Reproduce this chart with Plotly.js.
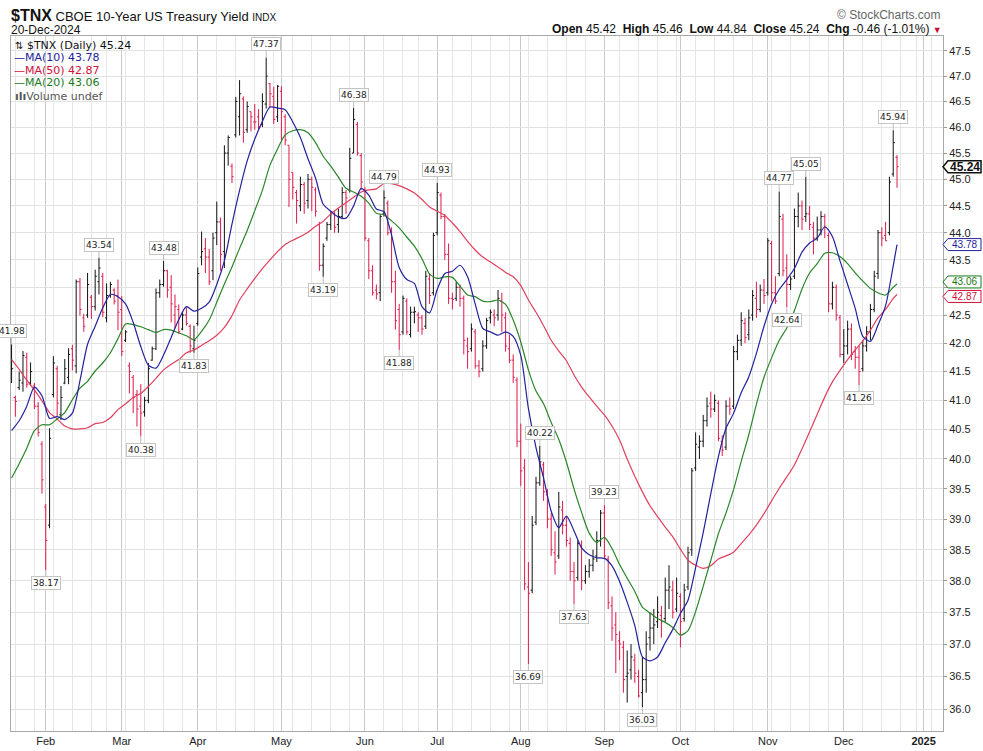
<!DOCTYPE html>
<html><head><meta charset="utf-8">
<script src="https://cdn.plot.ly/plotly-3.0.1.min.js"></script>
<style>html,body{margin:0;padding:0;background:#fff}#chart{width:983px;height:751px}</style>
</head><body><div id="chart"></div>
<script>
// ---- data (yield x10, $TNX, daily bars Jan 19 - Dec 20, 2024; x = trading-day position) ----
const openP = [41.45,41.05,41.22,41.30,41.75,41.30,41.25,40.90,40.25,39.20,
 38.90,41.10,41.55,40.75,41.30,41.40,41.90,41.60,43.10,42.45,
 42.50,42.82,42.65,43.10,43.20,42.45,42.85,42.95,42.85,42.60,
 42.05,41.60,41.40,41.10,40.90,40.80,41.00,41.70,41.90,42.90,
 43.05,43.30,43.00,42.50,42.60,42.25,42.50,42.30,41.90,42.35,
 43.55,43.70,43.55,43.30,44.00,44.20,43.65,45.50,45.25,45.85,
 46.20,46.55,45.95,46.30,46.10,46.20,46.05,46.45,46.85,46.60,
 46.20,46.70,46.20,45.65,45.13,44.75,44.50,44.90,44.60,45.00,
 44.80,44.15,43.40,43.90,44.15,44.35,44.15,44.30,44.75,44.80,
 45.50,46.05,45.45,44.80,43.85,43.30,42.95,42.90,44.35,44.55,
 44.05,43.10,42.60,42.20,42.75,42.15,42.55,42.50,42.45,42.30,
 43.15,42.90,44.00,44.70,44.30,43.60,42.80,42.80,43.00,42.80,
 41.95,41.90,42.20,41.60,41.55,41.95,42.45,42.50,42.50,42.75,
 42.45,41.90,41.70,41.35,40.30,39.85,37.90,37.85,38.95,39.60,
 39.90,39.40,39.00,38.45,38.40,39.15,38.90,38.60,38.15,38.05,
 38.55,38.00,38.15,38.25,38.40,38.65,39.10,38.35,37.60,37.30,
 37.05,36.95,36.50,36.60,36.75,36.50,36.25,36.45,37.10,37.25,
 37.35,37.45,37.40,37.85,37.85,37.55,37.75,37.40,37.90,38.50,
 39.85,40.20,40.30,40.65,40.95,40.85,40.95,40.30,40.20,40.90,
 40.90,41.85,42.05,42.35,42.15,42.50,42.80,42.60,42.95,42.90,
 43.80,42.90,43.25,44.25,43.35,43.05,43.20,44.30,44.50,44.30,
 44.35,44.10,43.90,44.05,44.30,43.95,42.70,43.00,42.45,41.80,
 41.95,42.25,41.85,41.75,41.55,41.95,42.20,42.60,43.25,44.00,
 43.95,44.00,45.10,45.42];
const highP = [41.98,41.08,41.50,41.86,41.83,41.66,41.30,40.97,40.30,39.25,
 40.52,41.77,41.60,41.25,41.72,41.91,41.97,43.14,43.17,42.52,
 43.26,42.86,43.32,43.54,43.26,43.07,43.10,42.98,43.14,42.84,
 42.23,41.66,41.44,41.18,41.28,41.06,41.65,41.94,42.98,43.14,
 43.48,43.32,43.22,42.87,42.69,42.55,42.64,42.33,42.31,43.36,
 44.02,43.90,43.70,44.00,44.58,44.28,45.65,45.84,45.30,46.59,
 46.92,46.60,46.50,46.30,46.45,46.35,46.66,47.37,46.86,46.79,
 46.82,46.80,46.25,45.65,45.13,44.80,45.05,44.95,45.10,45.05,
 44.85,44.20,43.80,44.20,44.40,44.40,44.45,44.85,44.80,45.60,
 46.38,46.10,45.50,44.85,43.90,43.40,43.05,44.35,44.79,44.60,
 44.10,43.30,42.70,42.85,42.80,42.65,42.65,42.55,42.50,43.30,
 43.25,44.00,44.93,44.75,44.35,43.80,42.90,43.10,43.05,42.85,
 42.10,42.35,42.25,41.70,42.05,42.45,42.60,42.60,42.95,42.90,
 42.55,42.15,41.80,41.40,40.60,40.00,38.30,39.05,39.70,40.22,
 39.95,39.50,39.10,38.80,39.45,39.30,39.05,38.70,38.30,38.65,
 38.65,38.25,38.35,38.50,38.80,39.15,39.23,38.40,37.75,37.50,
 37.20,37.05,36.90,37.00,36.85,36.60,36.80,37.20,37.50,37.55,
 37.75,37.60,38.05,38.25,38.00,38.05,37.80,37.95,38.55,39.85,
 40.45,40.40,40.75,41.05,41.15,41.10,41.00,40.40,41.00,41.05,
 41.95,42.15,42.55,42.45,42.60,42.95,43.10,43.05,43.15,43.90,
 43.85,43.20,44.77,44.35,43.60,43.20,44.45,44.75,44.60,45.05,
 44.50,44.20,44.30,44.40,44.35,44.00,43.10,43.05,42.50,42.25,
 42.40,42.35,41.95,41.95,42.05,42.30,42.70,43.30,44.05,44.10,
 44.20,45.05,45.94,45.46];
const lowP = [41.30,40.72,41.18,41.15,41.22,41.25,40.85,40.38,39.42,38.17,
 38.85,41.05,40.72,40.66,41.28,41.28,41.52,41.47,42.49,42.20,
 42.45,42.43,42.58,42.87,42.46,42.37,42.81,42.69,42.23,41.77,
 42.02,41.12,40.78,40.55,40.38,40.72,40.95,41.69,41.88,42.81,
 43.01,42.81,42.37,42.26,42.16,42.23,42.31,41.83,41.83,42.31,
 43.40,43.26,43.04,43.13,43.77,43.30,43.35,45.26,44.93,45.80,
 45.84,45.70,45.89,45.92,45.95,45.95,46.00,46.36,46.39,46.06,
 46.10,45.75,45.65,44.48,44.62,44.17,44.40,44.35,44.45,44.40,
 44.30,43.30,43.19,43.85,44.05,44.00,44.00,44.25,44.35,44.75,
 45.50,45.45,44.80,43.85,43.15,42.85,42.78,42.75,44.30,43.95,
 42.90,42.24,41.88,42.15,42.15,42.10,42.35,42.20,42.15,42.25,
 42.70,42.85,43.95,44.25,43.50,42.70,42.60,42.75,42.65,41.80,
 41.55,41.85,41.55,41.40,41.50,41.90,42.35,42.30,42.40,42.20,
 41.85,41.65,41.30,40.20,39.55,37.85,36.69,37.80,38.90,39.55,
 39.30,38.85,38.40,38.10,38.35,38.75,38.55,38.00,37.63,38.00,
 37.85,37.95,38.05,38.15,38.30,38.55,38.35,37.55,37.05,36.55,
 36.75,36.25,36.10,36.45,36.40,36.18,36.03,36.25,36.90,37.00,
 37.25,37.10,37.35,37.55,37.40,37.50,36.95,37.35,37.85,38.40,
 39.80,40.00,40.20,40.55,40.70,40.80,40.30,40.05,40.15,40.75,
 40.85,41.70,41.95,42.00,42.05,42.40,42.45,42.55,42.70,42.85,
 42.75,42.70,43.20,43.20,42.64,42.95,43.15,44.10,44.05,44.20,
 44.05,43.60,43.85,43.95,43.90,42.55,42.60,42.40,41.75,41.65,
 41.80,41.70,41.55,41.26,41.50,41.85,42.05,42.55,43.15,43.75,
 43.85,43.95,45.05,44.84];
const closeP = [41.55,40.98,41.35,41.78,41.28,41.50,40.90,40.45,39.65,38.65,
 40.35,41.65,40.95,41.05,41.55,41.80,41.70,43.10,42.60,42.30,
 43.05,42.65,43.20,43.35,42.55,42.85,43.05,42.75,42.55,41.85,
 42.20,41.50,41.05,40.85,40.78,41.00,41.55,41.90,42.90,43.05,
 43.30,42.95,42.70,42.65,42.20,42.50,42.35,41.95,42.05,43.25,
 43.65,43.55,43.10,43.90,44.20,43.60,45.50,45.80,45.05,46.50,
 46.65,45.90,46.40,46.20,46.10,46.00,46.50,47.00,46.65,46.15,
 46.80,46.30,45.75,45.00,44.85,44.60,44.90,44.55,45.00,44.85,
 44.40,43.40,43.75,44.15,44.35,44.10,44.30,44.75,44.65,45.40,
 46.15,45.50,44.95,43.90,43.30,42.90,42.88,44.30,44.65,44.00,
 43.10,42.40,42.15,42.80,42.20,42.55,42.56,42.45,42.25,43.20,
 42.85,43.95,44.75,44.30,43.60,42.80,42.78,43.00,42.80,42.05,
 41.85,42.25,41.60,41.50,41.95,42.40,42.55,42.45,42.80,42.50,
 41.95,41.70,41.40,40.30,39.80,37.95,37.80,38.90,39.60,39.95,
 39.45,39.00,38.50,38.30,39.20,38.90,38.65,38.15,38.00,38.60,
 38.00,38.15,38.25,38.35,38.65,39.10,38.40,37.65,37.25,37.15,
 37.00,36.45,36.55,36.80,36.55,36.20,36.45,37.00,37.25,37.30,
 37.50,37.35,37.85,37.90,37.50,37.80,37.35,37.85,38.45,39.80,
 40.25,40.30,40.65,40.90,40.85,41.00,40.35,40.15,40.90,40.85,
 41.85,42.05,42.40,42.10,42.45,42.85,42.60,42.95,42.85,43.85,
 42.90,42.75,44.30,43.30,43.05,43.15,44.30,44.50,44.25,44.35,
 44.15,43.90,44.05,44.30,44.10,42.70,43.00,42.50,41.80,41.95,
 42.25,41.80,41.75,41.50,41.95,42.20,42.60,43.20,44.00,43.90,
 43.85,44.95,45.70,45.24];

// moving-average lines, read at every second bar (positions in maIdx)
const maIdx = [0,2,4,6,8,10,12,14,16,18,20,22,24,26,28,30,32,34,36,38,40,42,44,46,
 48,50,52,54,56,58,60,62,64,66,68,70,72,74,76,78,80,82,84,86,88,90,92,94,
 96,98,100,102,104,106,108,110,112,114,116,118,120,122,124,126,128,130,132,134,136,138,140,142,
 144,146,148,150,152,154,156,158,160,162,164,166,168,170,172,174,176,178,180,182,184,186,188,190,
 192,194,196,198,200,202,204,206,208,210,212,214,216,218,220,222,224,226,228,230,232,233];
const ma10 = [40.48,40.65,40.90,41.23,41.08,40.69,40.72,40.67,40.78,41.34,41.98,42.30,42.63,42.87,42.83,42.70,42.37,41.94,41.61,41.56,41.79,42.10,42.42,42.65,
 42.57,42.62,42.73,43.05,43.48,44.16,44.79,45.35,45.77,46.11,46.39,46.37,46.34,46.10,45.80,45.39,45.02,44.53,44.40,44.29,44.27,44.50,44.83,44.70,
 44.44,44.39,43.95,43.36,43.14,43.07,42.65,42.54,42.96,43.25,43.29,43.40,43.19,42.70,42.26,42.20,42.14,42.20,42.12,41.78,40.86,40.19,39.68,39.13,
 38.86,39.05,38.81,38.53,38.42,38.37,38.36,38.24,37.99,37.66,37.29,36.80,36.74,36.80,37.02,37.23,37.48,37.69,38.21,38.78,39.42,40.04,40.52,40.78,
 41.13,41.41,41.82,42.30,42.70,42.96,43.14,43.34,43.64,43.81,43.90,44.11,43.93,43.48,43.05,42.62,42.12,42.03,42.32,42.67,43.39,43.78];
const ma20 = [39.68,39.92,40.18,40.48,40.58,40.58,40.68,40.79,41.01,41.21,41.33,41.51,41.65,41.83,42.08,42.34,42.33,42.29,42.24,42.19,42.24,42.23,42.18,42.13,
 42.06,42.21,42.41,42.73,43.06,43.37,43.71,44.04,44.41,44.79,45.27,45.58,45.85,45.93,45.95,45.89,45.70,45.44,45.25,45.04,44.83,44.76,44.68,44.55,
 44.36,44.33,44.22,44.09,43.92,43.75,43.52,43.24,43.16,43.19,43.18,43.02,42.86,42.83,42.75,42.74,42.77,42.69,42.41,42.02,41.53,41.16,40.94,40.62,
 40.33,39.95,39.50,39.11,38.77,38.62,38.70,38.52,38.26,38.04,37.83,37.58,37.49,37.40,37.34,37.26,37.14,37.21,37.51,37.91,38.33,38.76,39.10,39.49,
 39.96,40.41,40.93,41.40,41.74,42.05,42.27,42.58,42.97,43.26,43.43,43.62,43.63,43.56,43.43,43.26,43.11,42.98,42.90,42.86,43.00,43.06];
const ma50 = [41.71,41.54,41.35,41.18,40.99,40.79,40.68,40.56,40.51,40.51,40.53,40.60,40.62,40.70,40.84,40.94,41.05,41.12,41.24,41.38,41.53,41.63,41.71,41.83,
 41.88,41.96,42.04,42.14,42.28,42.49,42.77,42.97,43.16,43.34,43.50,43.65,43.78,43.86,43.93,44.01,44.12,44.21,44.35,44.46,44.56,44.66,44.76,44.80,
 44.82,44.92,44.92,44.88,44.82,44.74,44.62,44.48,44.40,44.32,44.18,44.02,43.84,43.68,43.55,43.46,43.37,43.27,43.19,43.03,42.77,42.55,42.31,42.05,
 41.86,41.69,41.44,41.23,41.06,40.90,40.75,40.56,40.32,40.00,39.71,39.45,39.22,39.04,38.87,38.71,38.51,38.33,38.25,38.20,38.24,38.35,38.40,38.46,
 38.60,38.74,38.90,39.09,39.30,39.51,39.70,39.90,40.17,40.46,40.76,41.06,41.32,41.52,41.71,41.88,42.04,42.23,42.45,42.60,42.80,42.87];

const monthIdx  = [9,29,49,71,93,112,134,156,176,199,219,240];
const monthText = ['Feb','Mar','Apr','May','Jun','Jul','Aug','Sep','Oct','Nov','Dec','<b>2025</b>'];
const weekIdx = [1,6,11,16,21,25,30,35,40,45,49,54,59,64,69,74,79,84,89,93,98,103,107,112,116,121,126,131,
 136,141,146,151,156,160,165,170,175,180,185,190,195,200,205,210,215,219,224,229,234,238,242];
const yTicks = [36.0,36.5,37.0,37.5,38.0,38.5,39.0,39.5,40.0,40.5,41.0,41.5,42.0,42.5,43.0,43.5,44.0,44.5,45.0,45.5,46.0,46.5,47.0,47.5];
// the 43.0 label sits under the MA value tags in the reference, so it is left blank
const yTickText = ['36.0','36.5','37.0','37.5','38.0','38.5','39.0','39.5','40.0','40.5','41.0','41.5','42.0','42.5','','43.5','44.0','44.5','45.0','45.5','46.0','46.5','47.0','47.5'];

const peakIdx  = [0,9,23,34,40,48,67,82,90,98,102,112,136,139,148,156,166,202,204,209,223,232];
const peakVal  = [41.98,38.17,43.54,40.38,43.48,41.83,47.37,43.19,46.38,44.79,41.88,44.93,36.69,40.22,37.63,39.23,36.03,44.77,42.64,45.05,41.26,45.94];
const peakSide = ['hi','lo','hi','lo','hi','lo','hi','lo','hi','hi','lo','hi','lo','hi','lo','hi','lo','hi','lo','hi','lo','hi'];

// ---- split bars by colour (black = close up vs previous close, red = down) ----
const up = {x:[],open:[],high:[],low:[],close:[]}, dn = {x:[],open:[],high:[],low:[],close:[]};
closeP.forEach((c, i) => {
  const prev = i === 0 ? openP[0] : closeP[i-1];
  const g = c >= prev ? up : dn;
  g.x.push(i); g.open.push(openP[i]); g.high.push(highP[i]); g.low.push(lowP[i]); g.close.push(c);
});

const BLACK = '#111111', RED = '#e0184a';
const C10 = '#22229c', C50 = '#e0405e', C20 = '#2a862a';
function ohlcTrace(g, col){ return {type:'ohlc', x:g.x, open:g.open, high:g.high, low:g.low, close:g.close,
  increasing:{line:{color:col,width:1}}, decreasing:{line:{color:col,width:1}}, tickwidth:0.42, hoverinfo:'skip', showlegend:false}; }
function maTrace(y, col){ return {type:'scatter', mode:'lines', x:maIdx, y:y, line:{color:col, width:1.2, shape:'spline', smoothing:0.7},
  hoverinfo:'skip', showlegend:false}; }

const traces = [ maTrace(ma50, C50), maTrace(ma20, C20), maTrace(ma10, C10), ohlcTrace(up, BLACK), ohlcTrace(dn, RED) ];

// ---- pixel helpers ----
const PL = 11, PR = 943, PT = 36, PB = 731;
const YLO = Math.log10(35.67), YHI = Math.log10(47.80);
const px = x => (x - PL) / (PR - PL);
const py = y => (PB - y) / (PB - PT);
const yPix = v => PB - (Math.log10(v) - YLO) / (YHI - YLO) * (PB - PT);
const last = closeP.length - 1;
const m10 = ma10[ma10.length-1], m20 = ma20[ma20.length-1], m50 = ma50[ma50.length-1];
const f2 = v => v.toFixed(2);

const ann = [];
const shapes = [];
// header
ann.push({xref:'paper', yref:'paper', x:px(9), y:py(16), xanchor:'left', yanchor:'middle', showarrow:false,
  text:"<span style='font-size:16px'><b>$TNX</b></span> CBOE 10-Year US Treasury Yield <span style='font-size:10px'>INDX</span>",
  font:{family:'Liberation Sans, Arial, sans-serif', size:13, color:'#111'}});
ann.push({xref:'paper', yref:'paper', x:px(9), y:py(30), xanchor:'left', yanchor:'middle', showarrow:false,
  text:'20-Dec-2024', font:{family:'Liberation Sans, Arial, sans-serif', size:12, color:'#111'}});
ann.push({xref:'paper', yref:'paper', x:px(943), y:py(15), xanchor:'right', yanchor:'middle', showarrow:false,
  text:'© StockCharts.com', font:{family:'Liberation Sans, Arial, sans-serif', size:12, color:'#666'}});
const chg = closeP[last] - closeP[last-1];
ann.push({xref:'paper', yref:'paper', x:px(944), y:py(29), xanchor:'right', yanchor:'middle', showarrow:false,
  text:'<b>Open</b> ' + f2(openP[last]) + '  <b>High</b> ' + f2(highP[last]) + '  <b>Low</b> ' + f2(lowP[last]) +
       '  <b>Close</b> ' + f2(closeP[last]) + '  <b>Chg</b> ' + f2(chg) + ' (' + (chg / closeP[last-1] * 100).toFixed(2) + '%)' +
       " <span style='color:#c8102e;font-size:9px'>▼</span>",
  font:{family:'Liberation Sans, Arial, sans-serif', size:12, color:'#111'}});
// in-chart legend
const legFont = c => ({family:'DejaVu Sans, Verdana, sans-serif', size:11, color:c});
ann.push({xref:'paper', yref:'paper', x:px(13), y:py(45), xanchor:'left', yanchor:'middle', showarrow:false,
  text:"<span style='font-size:10px'>⇅</span> $TNX (Daily) " + f2(closeP[last]), font:legFont('#111')});
ann.push({xref:'paper', yref:'paper', x:px(12), y:py(58), xanchor:'left', yanchor:'middle', showarrow:false,
  text:'—MA(10) ' + f2(m10), font:legFont(C10)});
ann.push({xref:'paper', yref:'paper', x:px(12), y:py(70.5), xanchor:'left', yanchor:'middle', showarrow:false,
  text:'—MA(50) ' + f2(m50), font:legFont('#d0103a')});
ann.push({xref:'paper', yref:'paper', x:px(12), y:py(83), xanchor:'left', yanchor:'middle', showarrow:false,
  text:'—MA(20) ' + f2(m20), font:legFont('#1a7a1a')});
ann.push({xref:'paper', yref:'paper', x:px(13), y:py(96), xanchor:'left', yanchor:'middle', showarrow:false,
  text:'<b>ılı</b>Volume undef', font:legFont('#555')});
// peak labels
peakIdx.forEach((xi, k) => {
  const hi = peakSide[k] === 'hi';
  ann.push({x:xi, y:Math.log10(peakVal[k]), xref:'x', yref:'y', text:peakVal[k].toFixed(2), showarrow:true,
    ax:0, ay: hi ? -13 : 13, arrowhead:0, arrowwidth:1, arrowcolor:'#bdbdbd', standoff:0,
    bgcolor:'#ffffff', bordercolor:'#c4c4c4', borderwidth:1, borderpad:1,
    font:{family:'DejaVu Sans, Verdana, sans-serif', size:9, color:'#222'}});
});
// right-hand value tags (pointed boxes)
const tagVals  = [closeP[last], m10, m20, m50];
const tagCols  = ['#111', C10, '#1a7a1a', '#d0103a'];
const tagShift = [0, 0, -2, 2];
tagVals.forEach((v, k) => {
  const yc = yPix(v) + tagShift[k];
  const h = 6;
  const path = 'M ' + px(943) + ' ' + py(yc) + ' L ' + px(948) + ' ' + py(yc - h) + ' L ' + px(981) + ' ' + py(yc - h) +
               ' L ' + px(981) + ' ' + py(yc + h) + ' L ' + px(948) + ' ' + py(yc + h) + ' Z';
  shapes.push({type:'path', xref:'paper', yref:'paper', path:path, line:{color:tagCols[k], width: k === 0 ? 1.5 : 1},
    fillcolor:'#ffffff', layer:'above'});
  ann.push({xref:'paper', yref:'paper', x:px(964.5), y:py(yc), xanchor:'center', yanchor:'middle', showarrow:false,
    text: k === 0 ? '<b>' + f2(v) + '</b>' : f2(v),
    font:{family:'Liberation Sans, Arial, sans-serif', size: k === 0 ? 12 : 10, color:tagCols[k]}});
});

const layout = {
  width:983, height:751, margin:{l:PL, r:983-PR, t:PT, b:751-PB, pad:0},
  paper_bgcolor:'#ffffff', plot_bgcolor:'#ffffff', showlegend:false,
  xaxis:{range:[-0.15, 245.1], tickmode:'array', tickvals:monthIdx, ticktext:monthText,
    showgrid:true, gridcolor:'#c9c9c9', gridwidth:1, zeroline:false,
    showline:true, mirror:true, linecolor:'#a8a8a8', linewidth:1, ticks:'', ticklen:0,
    tickfont:{family:'Liberation Sans, Arial, sans-serif', size:11, color:'#222'},
    minor:{tickmode:'array', tickvals:weekIdx, showgrid:true, gridcolor:'#e6e6e6', gridwidth:1, ticks:''},
    rangeslider:{visible:false}, fixedrange:true},
  yaxis:{type:'log', side:'right', range:[YLO, YHI], tickmode:'array',
    tickvals:yTicks, ticktext:yTickText, showgrid:true, gridcolor:'#e2e2e2', gridwidth:1,
    zeroline:false, showline:true, mirror:true, linecolor:'#a8a8a8', linewidth:1, ticks:'outside', ticklen:3, tickcolor:'#999',
    tickfont:{family:'Liberation Sans, Arial, sans-serif', size:11, color:'#222'}, fixedrange:true},
  annotations: ann, shapes: shapes
};
Plotly.newPlot('chart', traces, layout, {displayModeBar:false, staticPlot:true});
</script></body></html>
